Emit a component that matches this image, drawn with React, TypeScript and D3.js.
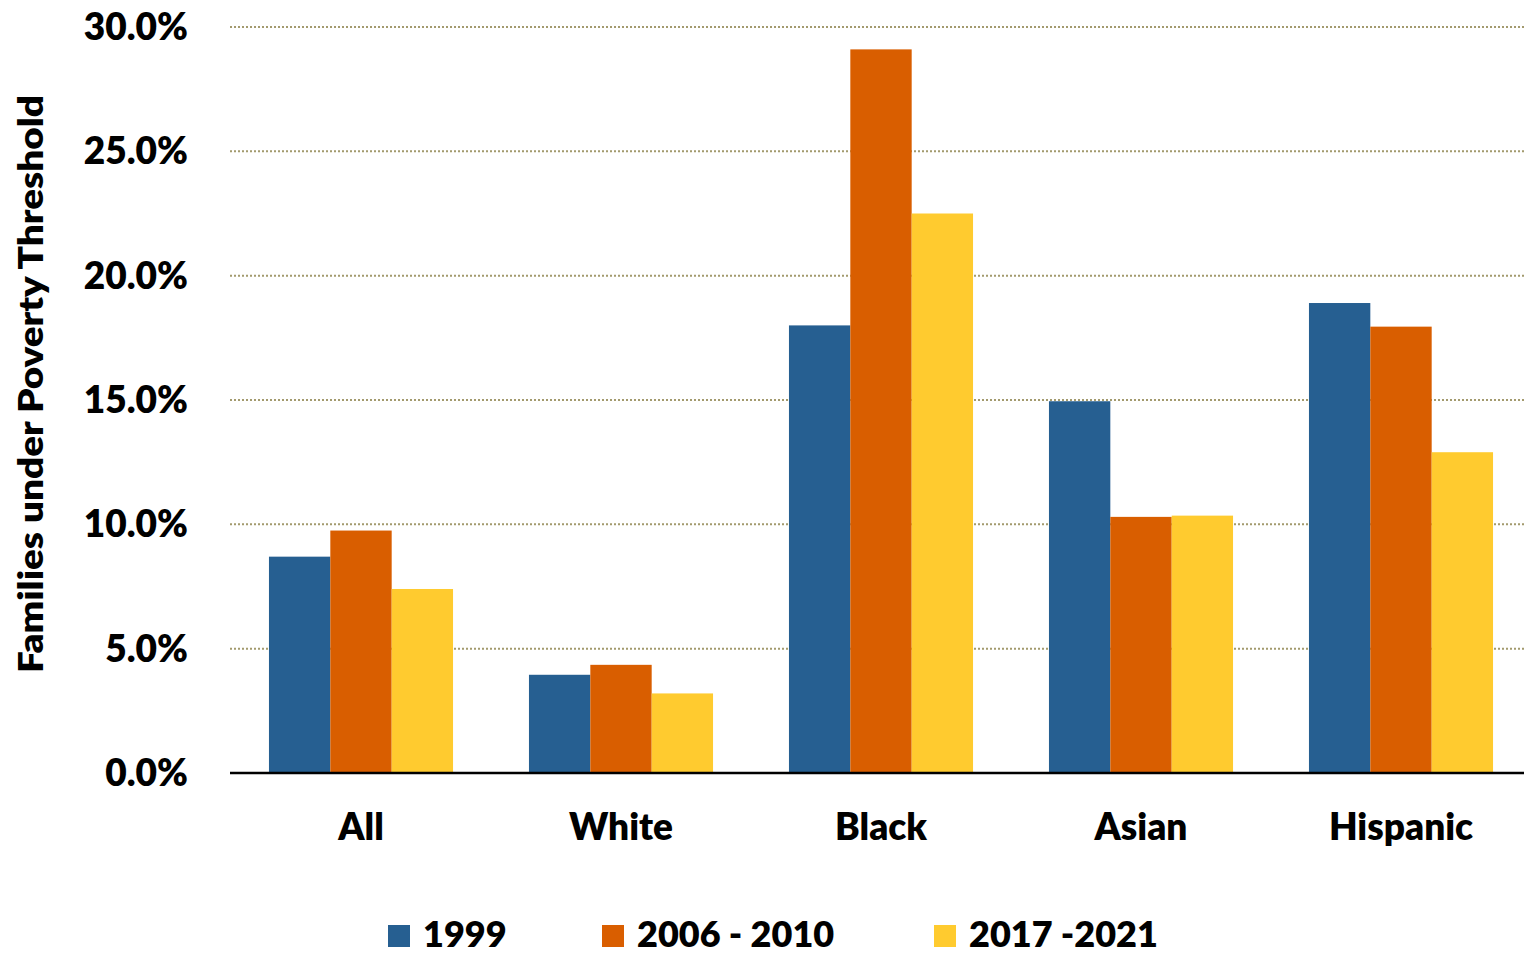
import React from "react";
import * as d3 from "d3";

const categories = ["All", "White", "Black", "Asian", "Hispanic"];
const seriesNames = ["1999", "2006 - 2010", "2017 -2021"];
const values1999 = [8.7, 3.95, 18.0, 14.95, 18.9];
const values2006 = [9.75, 4.35, 29.1, 10.3, 17.95];
const values2017 = [7.4, 3.2, 22.5, 10.35, 12.9];
const colors = ["#265F91", "#D95E00", "#FFCB2F"];
const yTicks = [0, 5, 10, 15, 20, 25, 30];

const W = 1524;
const H = 954;
const FONT = "Lato, 'Open Sans', sans-serif";

export default function App() {
  const x0 = d3.scaleBand<string>().domain(categories).range([231, 1531]).paddingInner(0.292).paddingOuter(0.146);
  const x1 = d3.scaleBand<string>().domain(seriesNames).range([0, x0.bandwidth()]).padding(0);
  const y = d3.scaleLinear().domain([0, 30]).range([773, 27]);
  const series = [values1999, values2006, values2017];

  const legendX = [388, 602, 934];

  return (
    <svg width={W} height={H} style={{ position: "absolute", left: 0, top: 0, background: "#fff" }}>
      {yTicks.slice(1).map((t) => (
        <line key={"g" + t} x1={230} x2={1524} y1={y(t)} y2={y(t)} stroke="#A39A6E" strokeWidth={2} strokeDasharray="2 2" />
      ))}
      {categories.map((c, ci) => (
        <g key={c} transform={`translate(${x0(c)},0)`}>
          {seriesNames.map((s, si) => (
            <rect
              key={s}
              x={x1(s)}
              y={y(series[si][ci])}
              width={x1.bandwidth()}
              height={y(0) - y(series[si][ci])}
              fill={colors[si]}
            />
          ))}
        </g>
      ))}
      <line x1={230} x2={1524} y1={y(0)} y2={y(0)} stroke="#000" strokeWidth={2.5} />
      {yTicks.map((t) => (
        <text key={"t" + t} x={188} y={y(t) + 13} textAnchor="end" fontFamily={FONT} fontWeight={800} fontSize={37} fill="#000">
          {t.toFixed(1) + "%"}
        </text>
      ))}
      {categories.map((c) => (
        <text key={"l" + c} x={(x0(c) as number) + x0.bandwidth() / 2} y={840} textAnchor="middle" fontFamily={FONT} fontWeight={800} fontSize={37} fill="#000">
          {c}
        </text>
      ))}
      <text
        transform={`translate(43,384) rotate(-90)`}
        textAnchor="middle"
        fontFamily={FONT}
        fontWeight={800}
        fontSize={33}
        fill="#000"
        textLength={578}
        lengthAdjust="spacingAndGlyphs"
      >
        Families under Poverty Threshold
      </text>
      {seriesNames.map((s, i) => (
        <g key={"leg" + s}>
          <rect x={legendX[i]} y={925} width={22} height={22} fill={colors[i]} />
          <text x={legendX[i] + 35} y={947} fontFamily={FONT} fontWeight={800} fontSize={36} fill="#000">
            {s}
          </text>
        </g>
      ))}
    </svg>
  );
}
